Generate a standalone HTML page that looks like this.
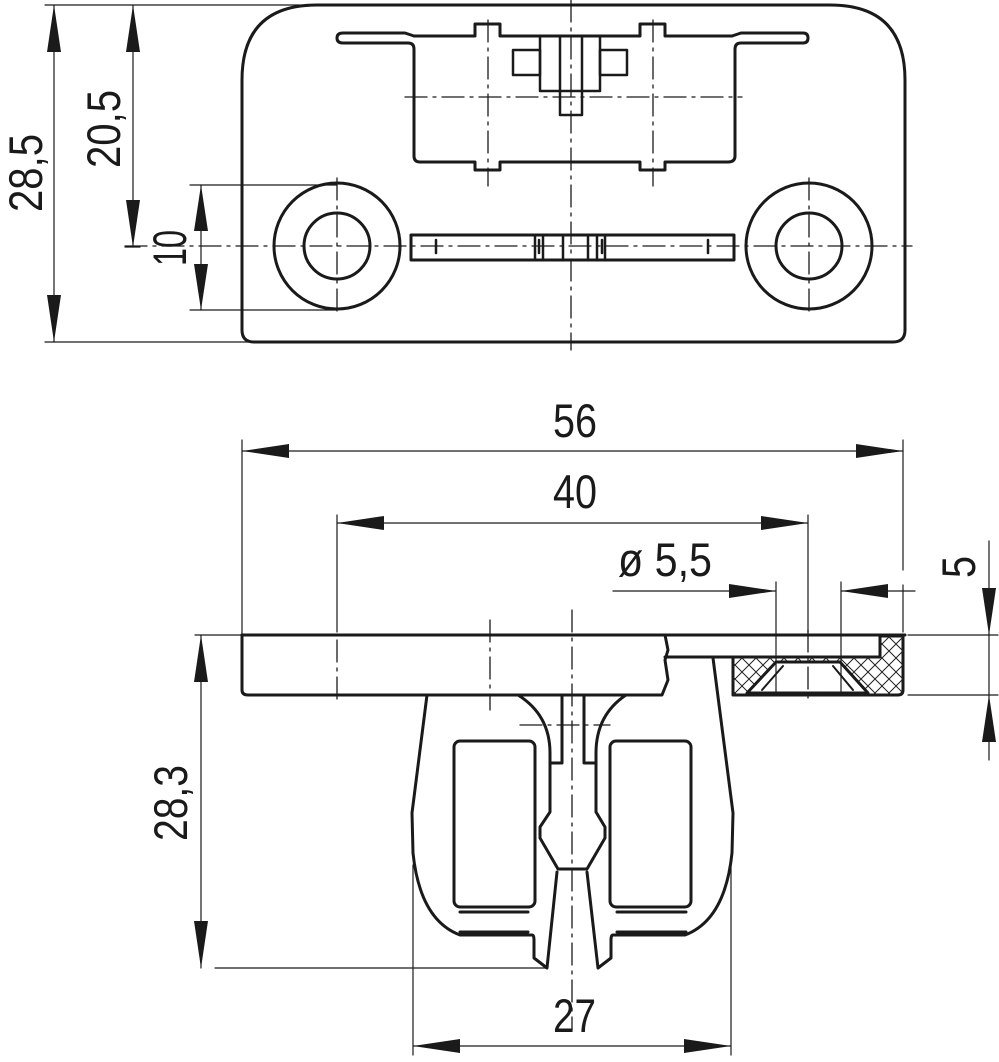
<!DOCTYPE html>
<html><head><meta charset="utf-8"><style>html,body{margin:0;padding:0;background:#fff}svg{display:block}text{font-family:"Liberation Sans",sans-serif;font-size:47px;fill:#1a1a1a}</style></head>
<body>
<svg width="999" height="1062" viewBox="0 0 999 1062" xmlns="http://www.w3.org/2000/svg">
<defs>
<pattern id="h" width="14" height="14" patternUnits="userSpaceOnUse">
<path d="M0 0L14 14M14 0L0 14" stroke="#222" stroke-width="1"/>
</pattern>
</defs>
<g fill="none" stroke="#1a1a1a" stroke-linecap="round" stroke-linejoin="round">
<!-- TOP VIEW -->
<g stroke-width="3">
<path d="M242 80 Q242 5 317 5 L830 5 Q905 5 905 80 L905 330 Q905 342 893 342 L254 342 Q242 342 242 330 Z"/>
<circle cx="337" cy="246" r="63"/><circle cx="337" cy="246" r="33"/>
<circle cx="809" cy="246" r="63"/><circle cx="809" cy="246" r="33"/>
<path d="M343 33 L405 33 L414 36 M343 33 Q337 33 337 38 Q337 43 343 43 L408 43 Q414 43 414 49 L414 156 Q414 162 420 162 L475 162 L475 170 L500 170 L500 162 L640 162 L640 170 L665 170 L665 162 L728 162 Q735 162 735 156 L735 49 Q735 43 741 43 L803 43 Q808 43 808 38 Q808 33 803 33 L741 33 L732 36"/>
<path d="M414 36 L475 36 L475 24 L500 24 L500 36 L640 36 L640 24 L665 24 L665 36 L732 36"/>
<rect x="411" y="235" width="323" height="25"/>
</g>
<g stroke-width="2.5">
<rect x="540" y="36" width="60" height="55"/>
<rect x="513" y="50" width="27" height="25"/><rect x="600" y="50" width="27" height="25"/>
<rect x="560" y="36" width="22" height="79"/>
<path d="M535 235V260M543 235V260M563 235V260M588 235V260M597 235V260M605 235V260"/>
<path d="M436 240V253M708 240V253M539 240V253M602 240V253"/>
</g>
<g stroke-width="1.3" stroke-dasharray="22 6 3 6">
<path d="M571 0V350M125 246H912M405 97H742M488 20V186M653 20V186M337 178V317M809 178V317"/>
</g>
<!-- top dims -->
<g stroke-width="1.2">
<path d="M45 5H300M45 342H250M190 185H337M190 310H337M125 247H140"/>
<path d="M54 5V342M133 5V247M201 185V310"/>
</g>
<!-- SIDE VIEW -->
<g stroke-width="3">
<path d="M242 635H905"/>
<path d="M242 635V690Q242 695 248 695H662L668 680L665 660L668 650L665 635"/>
<path d="M665 657H880V636"/>
<path d="M880 636H903V690Q903 695 898 695H733V657"/>
<path d="M427 695L412 813L413 853Q420 920 460 935L532 935Q534 935 534 940L534 958L547 968L557 872"/>
<path d="M713 658L733 813L732 853Q725 920 685 935L613 935Q611 935 611 940L611 958L598 968L587 872"/>
<path d="M518 695Q550 715 550 753L550 763L562 763L562 695M584 695L584 763L596 763L596 753Q596 715 626 695"/>
<path d="M550 763L550 812L540 827L540 838L558 869L587 869L605 838L605 827L596 812L596 763"/>
<rect x="454" y="741" width="81" height="166" rx="6"/>
<rect x="610" y="741" width="81" height="166" rx="6"/>
<path d="M460 912H528M460 932H528M617 912H686M617 932H686"/>
</g>
<path d="M733 657H880V636H903V690Q903 695 898 695H733Z M776 662H840L868 693H747Z" fill="url(#h)" fill-rule="evenodd" stroke="none"/>
<path d="M776 662H840L868 693H747Z" fill="#fff" stroke="#1a1a1a" stroke-width="3"/>
<path d="M762 690L783 666M853 690L833 666" stroke-width="2"/>
<g stroke-width="1.3" stroke-dasharray="22 6 3 6">
<path d="M572 610V1030M490 620V710M808 630V702"/>
<path d="M337 640V700M520 725H610"/>
</g>
<!-- side dims -->
<g stroke-width="1.2">
<path d="M242 440V635M903 440V570M903 585V632M337 515V632M808 515V632"/>
<path d="M242 451H903M337 523H808M613 591H776M841 591H915M776 582V695M841 582V695"/>
<path d="M908 635H998M908 695H998M989 541V760"/>
<path d="M195 635H242M215 968H547M201 635V968"/>
<path d="M413 865V1055M731 865V1055M413 1046H731"/>
</g>
</g>
<!-- arrows -->
<g fill="#1a1a1a">
<path d="M54 5L47 52H61Z"/><path d="M54 342L47 295H61Z"/>
<path d="M133 5L126 52H140Z"/><path d="M133 247L126 200H140Z"/>
<path d="M201 185L194 231H208Z"/><path d="M201 310L194 264H208Z"/>
<path d="M242 451L289 444V458Z"/><path d="M903 451L856 444V458Z"/>
<path d="M337 523L384 516V530Z"/><path d="M808 523L761 516V530Z"/>
<path d="M776 591L729 584V598Z"/><path d="M841 591L888 584V598Z"/>
<path d="M989 635L982 588H996Z"/><path d="M989 695L982 742H996Z"/>
<path d="M201 635L194 682H208Z"/><path d="M201 968L194 921H208Z"/>
<path d="M413 1046L460 1039V1053Z"/><path d="M731 1046L684 1039V1053Z"/>
</g>
<!-- labels -->
<text transform="translate(42 212) rotate(-90)" textLength="78" lengthAdjust="spacingAndGlyphs">28,5</text>
<text transform="translate(120 168) rotate(-90)" textLength="78" lengthAdjust="spacingAndGlyphs">20,5</text>
<text transform="translate(186 266) rotate(-90)" textLength="36" lengthAdjust="spacingAndGlyphs">10</text>
<text x="553" y="437" textLength="44" lengthAdjust="spacingAndGlyphs">56</text>
<text x="553" y="508" textLength="44" lengthAdjust="spacingAndGlyphs">40</text>
<text x="618" y="576" textLength="94" lengthAdjust="spacingAndGlyphs">ø 5,5</text>
<text transform="translate(975 578) rotate(-90)" textLength="22" lengthAdjust="spacingAndGlyphs">5</text>
<text transform="translate(187 841) rotate(-90)" textLength="76" lengthAdjust="spacingAndGlyphs">28,3</text>
<text x="553" y="1032" textLength="43" lengthAdjust="spacingAndGlyphs">27</text>
</svg>
</body></html>
